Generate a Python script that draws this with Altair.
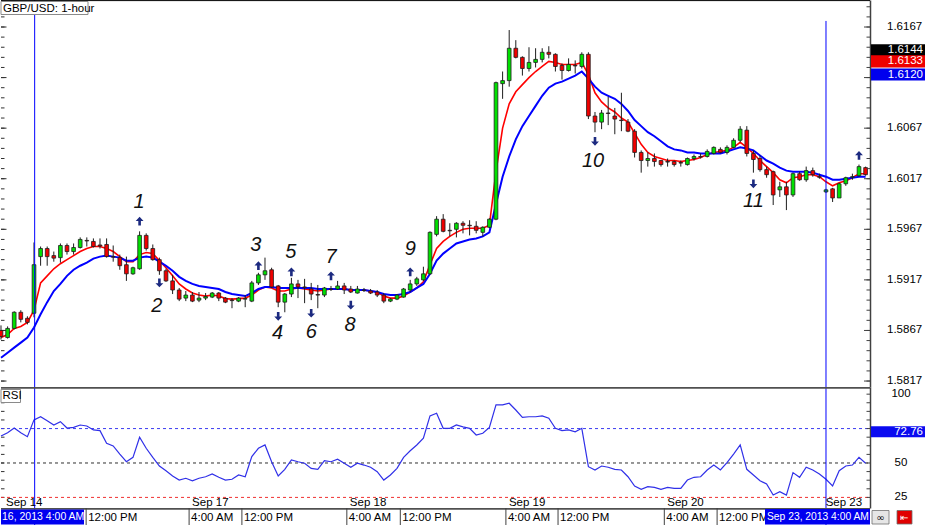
import altair as alt
import pandas as pd

FONT = "Liberation Sans"

# ---------------- data ----------------
open_ = [1.5867, 1.5860, 1.5869, 1.5885, 1.5879, 1.5884, 1.5940, 1.5948, 1.5941, 1.5939,
         1.5951, 1.5945, 1.5949, 1.5956, 1.5955, 1.59515, 1.5952, 1.5940, 1.5939, 1.5932,
         1.5923, 1.5928, 1.5961, 1.5948, 1.5937, 1.5926, 1.5916, 1.5907, 1.5899, 1.5902,
         1.5897, 1.5899, 1.5900, 1.5904, 1.5899, 1.5897, 1.5896, 1.5898, 1.5896, 1.5914,
         1.5922, 1.5927, 1.5911, 1.5895, 1.5903, 1.5913, 1.5910, 1.5908, 1.59025, 1.5902,
         1.5908, 1.5908, 1.5911, 1.5908, 1.5904, 1.5907, 1.5906, 1.5905, 1.5902, 1.5896,
         1.5898, 1.5900, 1.5907, 1.5913, 1.5917, 1.5923, 1.5962, 1.5977, 1.5966, 1.5967,
         1.5973, 1.5971, 1.5970, 1.5964, 1.5969, 1.5977, 1.6111, 1.6114, 1.6146, 1.6137,
         1.6126, 1.6132, 1.6135, 1.6142, 1.6140, 1.6129, 1.6124, 1.6129, 1.6128, 1.6140,
         1.6079, 1.6073, 1.6082, 1.6079, 1.6075, 1.6073, 1.6064, 1.6043, 1.6035, 1.6037,
         1.6035, 1.6034, 1.6034, 1.6033, 1.6031, 1.6037, 1.6039, 1.6039, 1.6042, 1.6046,
         1.6043, 1.6048, 1.6055, 1.6065, 1.6042, 1.6037, 1.6026, 1.6024, 1.6006, 1.6009,
         1.6001, 1.6022, 1.6016, 1.6025, 1.6019, 1.6004, 1.6007, 1.5998, 1.6012, 1.60185,
         1.6020, 1.6028]
high = [1.5872, 1.5871, 1.5886, 1.5887, 1.5881, 1.5954, 1.5950, 1.5950, 1.5945, 1.5953,
        1.5953, 1.5953, 1.5959, 1.5959, 1.5958, 1.5958, 1.5958, 1.5951, 1.5942, 1.5940,
        1.5930, 1.5965, 1.5963, 1.5952, 1.5939, 1.5928, 1.5922, 1.5909, 1.5906, 1.5905,
        1.5905, 1.5904, 1.5905, 1.5905, 1.5900, 1.5899, 1.5900, 1.5902, 1.5916, 1.5924,
        1.5939, 1.5929, 1.5912, 1.5904, 1.5919, 1.5917, 1.5918, 1.5914, 1.5912, 1.5910,
        1.5911, 1.5916, 1.5914, 1.5911, 1.5911, 1.5909, 1.5908, 1.5907, 1.5904, 1.5899,
        1.5903, 1.5909, 1.5917, 1.5920, 1.5930, 1.5965, 1.5980, 1.5982, 1.5973, 1.5974,
        1.5975, 1.5976, 1.5975, 1.5970, 1.5978, 1.6113, 1.6123, 1.6164, 1.6154, 1.6138,
        1.6147, 1.6146, 1.6146, 1.6148, 1.6141, 1.6131, 1.6136, 1.6134, 1.6142, 1.6142,
        1.6083, 1.6085, 1.6098, 1.6087, 1.6102, 1.6076, 1.6066, 1.6045, 1.6043, 1.6042,
        1.6035, 1.6037, 1.6035, 1.6035, 1.6038, 1.6041, 1.6042, 1.6046, 1.6049, 1.6048,
        1.6050, 1.6057, 1.6069, 1.6069, 1.6045, 1.6040, 1.6029, 1.6025, 1.6014, 1.6014,
        1.6023, 1.6024, 1.6029, 1.6028, 1.6022, 1.6007, 1.6008, 1.6013, 1.6019, 1.6022,
        1.6031, 1.6029]
low = [1.5858, 1.5859, 1.5868, 1.5875, 1.5873, 1.5880, 1.5931, 1.5931, 1.5935, 1.5934,
       1.5942, 1.5942, 1.5948, 1.5950, 1.5949, 1.5948, 1.5939, 1.5935, 1.5927, 1.5916,
       1.5922, 1.5927, 1.5946, 1.5936, 1.5922, 1.5915, 1.5903, 1.5896, 1.5896, 1.5895,
       1.5895, 1.5897, 1.5899, 1.5896, 1.5894, 1.5889, 1.5895, 1.5890, 1.5895, 1.5912,
       1.5917, 1.5909, 1.5890, 1.5885, 1.5900, 1.5899, 1.5894, 1.5897, 1.5889, 1.5900,
       1.5906, 1.5907, 1.5903, 1.5904, 1.59035, 1.5905, 1.5903, 1.5900, 1.5894, 1.5895,
       1.5897, 1.58995, 1.5905, 1.5911, 1.5916, 1.5922, 1.5960, 1.5964, 1.5960, 1.5959,
       1.5963, 1.5961, 1.5963, 1.5960, 1.5968, 1.5976, 1.6096, 1.6108, 1.6136, 1.6119,
       1.6123, 1.6127, 1.6132, 1.6136, 1.6123, 1.6115, 1.6123, 1.6121, 1.6126, 1.6076,
       1.6063, 1.6066, 1.6070, 1.6061, 1.6064, 1.6063, 1.6038, 1.6023, 1.6029, 1.6029,
       1.6029, 1.6029, 1.6029, 1.6029, 1.6030, 1.6035, 1.6037, 1.6038, 1.6041, 1.6042,
       1.6041, 1.6047, 1.6053, 1.6039, 1.6023, 1.6024, 1.6018, 1.5991, 1.5999, 1.5986,
       1.5999, 1.6015, 1.6014, 1.6019, 1.6017, 1.6003, 1.5994, 1.5998, 1.6010, 1.6016,
       1.6019, 1.6020]
close = [1.5861, 1.5869, 1.5885, 1.5878, 1.5875, 1.5932, 1.5948, 1.5940, 1.59385, 1.5951,
         1.5945, 1.5949, 1.5957, 1.59555, 1.5950, 1.59505, 1.5940, 1.59395, 1.5931, 1.5923,
         1.5929, 1.5961, 1.5948, 1.5937, 1.5926, 1.5916, 1.5907, 1.5898, 1.5902, 1.5896,
         1.5899, 1.59005, 1.5904, 1.5899, 1.5895, 1.58965, 1.5899, 1.58985, 1.5914, 1.5922,
         1.5926, 1.5910, 1.5895, 1.5903, 1.5913, 1.5910, 1.59095, 1.5903, 1.5902, 1.5909,
         1.59075, 1.5911, 1.5907, 1.5905, 1.5908, 1.59065, 1.5904, 1.5902, 1.5896, 1.5898,
         1.5902, 1.5908, 1.5913, 1.5918, 1.5923, 1.5964, 1.5977, 1.5965, 1.59655, 1.5973,
         1.5971, 1.59705, 1.5966, 1.5969, 1.5977, 1.6112, 1.6114, 1.6146, 1.6137, 1.6126,
         1.6132, 1.6135, 1.6142, 1.6140, 1.6128, 1.6124, 1.6130, 1.61285, 1.6140, 1.6079,
         1.6073, 1.6082, 1.60815, 1.6076, 1.60745, 1.6064, 1.6043, 1.6035, 1.6037, 1.6034,
         1.6031, 1.60335, 1.6031, 1.60325, 1.6037, 1.6039, 1.60385, 1.6044, 1.6048, 1.6043,
         1.6048, 1.6055, 1.6066, 1.6042, 1.6036, 1.6026, 1.6021, 1.6001, 1.6009, 1.6001,
         1.6022, 1.6016, 1.6025, 1.6021, 1.60185, 1.6006, 1.5998, 1.6012, 1.6018, 1.6019,
         1.6029, 1.6021]
ema_fast = [1.5860, 1.5863, 1.5869, 1.5871, 1.5875, 1.5887, 1.5914, 1.5921, 1.5928, 1.5933,
            1.5937, 1.5941, 1.5945, 1.5948, 1.5950, 1.5950, 1.5948, 1.5945, 1.5940, 1.5935,
            1.5935, 1.5942, 1.5944, 1.5943, 1.5936, 1.5929, 1.5921, 1.5913, 1.5908, 1.5904,
            1.5902, 1.5901, 1.5902, 1.5901, 1.58985, 1.5898, 1.58985, 1.5899, 1.5902, 1.5907,
            1.5910, 1.5909, 1.5906, 1.5906, 1.5908, 1.5909, 1.5908, 1.5907, 1.5906, 1.5907,
            1.5908, 1.5908, 1.5908, 1.5907, 1.5907, 1.5907, 1.5906, 1.5905, 1.5901, 1.5899,
            1.5899, 1.5901, 1.5905, 1.5909, 1.5915, 1.5932, 1.5948, 1.5955, 1.5960, 1.5964,
            1.5967, 1.5968, 1.5968, 1.5968, 1.5971, 1.6024, 1.6067, 1.6091, 1.6103, 1.6110,
            1.6117, 1.6123, 1.6128, 1.6133, 1.6132, 1.6130, 1.6130, 1.6130, 1.6132, 1.6120,
            1.6102, 1.6093, 1.6087, 1.6083, 1.6077, 1.6073, 1.6062, 1.6051, 1.6043, 1.6039,
            1.6037, 1.6035, 1.6035, 1.6034, 1.6035, 1.6036, 1.6038, 1.6041, 1.6043, 1.6044,
            1.6045, 1.6048, 1.6053, 1.6048, 1.6042, 1.6035, 1.6029, 1.6023, 1.6016, 1.6013,
            1.6018, 1.6019, 1.6021, 1.6021, 1.6019, 1.6014, 1.6010, 1.6013, 1.6015, 1.6018,
            1.6022, 1.6022]
ema_slow = [1.5840, 1.5845, 1.5850, 1.5855, 1.5860, 1.5870, 1.5883, 1.5895, 1.5906, 1.5913,
            1.5921, 1.5927, 1.5931, 1.5934, 1.5938, 1.5940, 1.5941, 1.5940, 1.5939, 1.5936,
            1.5936, 1.5939, 1.5940, 1.5939, 1.5935, 1.5931, 1.5926, 1.5920, 1.5916, 1.5913,
            1.5911, 1.5910, 1.5909, 1.5908, 1.5905, 1.5903, 1.5902, 1.5901, 1.5904, 1.5908,
            1.5910, 1.5910, 1.5909, 1.5909, 1.5909, 1.5909, 1.5909, 1.5909, 1.5908, 1.5908,
            1.5908, 1.5908, 1.5908, 1.5907, 1.5907, 1.5907, 1.5906, 1.5905, 1.5903, 1.5902,
            1.5902, 1.5903, 1.5905, 1.5909, 1.5913, 1.5923, 1.5936, 1.5943, 1.5948, 1.5953,
            1.5955, 1.5957, 1.5958, 1.5960, 1.5964, 1.5992, 1.6019, 1.6039, 1.6056, 1.6069,
            1.6079, 1.6089, 1.6099, 1.6107, 1.6111, 1.6113, 1.6116, 1.6119, 1.6123, 1.6116,
            1.6108, 1.6102, 1.6099, 1.6096, 1.6091, 1.6084, 1.6075, 1.6069, 1.6063, 1.6059,
            1.6054, 1.6049, 1.6046, 1.6045, 1.6043, 1.6043, 1.6042, 1.6042, 1.6042, 1.6042,
            1.6044, 1.6046, 1.6048, 1.6047, 1.6045, 1.6040, 1.6035, 1.6032, 1.6028, 1.6025,
            1.6024, 1.6024, 1.6024, 1.6023, 1.6021, 1.6019, 1.6016, 1.6016, 1.6017, 1.6018,
            1.6019, 1.6019]
rsi = [69.6, 72.0, 75.4, 72.0, 69.1, 81.3, 83.6, 80.7, 77.6, 80.0,
       75.4, 75.9, 77.6, 76.9, 74.0, 73.5, 64.3, 62.4, 56.5, 50.9,
       54.1, 68.7, 60.7, 54.1, 47.8, 44.4, 40.6, 37.6, 38.9, 37.1,
       38.9, 40.0, 42.0, 39.6, 37.6, 38.2, 41.3, 40.0, 54.6, 60.7,
       63.1, 50.9, 40.6, 45.4, 52.2, 50.9, 49.8, 46.1, 45.4, 51.7,
       50.9, 52.7, 49.8, 46.9, 49.8, 48.5, 46.9, 43.7, 37.6, 41.3,
       46.1, 54.1, 58.9, 63.1, 68.0, 84.2, 86.1, 75.2, 75.2, 77.6,
       76.2, 75.2, 70.3, 71.6, 75.9, 92.2, 92.2, 93.4, 88.5, 83.2,
       83.6, 83.6, 84.2, 82.5, 75.2, 73.5, 74.0, 72.7, 75.2, 47.3,
       44.9, 47.8, 46.9, 45.4, 44.9, 40.0, 33.3, 30.9, 32.8, 32.3,
       30.9, 32.3, 31.6, 31.6, 37.6, 39.6, 40.0, 44.9, 48.5, 44.9,
       50.2, 56.5, 63.1, 45.4, 41.3, 37.1, 34.7, 26.7, 29.1, 26.7,
       43.0, 39.6, 46.9, 44.9, 42.0, 38.2, 33.3, 44.4, 47.8, 48.5,
       54.1, 49.8]

# axis ticks and their labels (1.6117 and 75 are hidden behind the quote boxes)
price_ticks_major = [1.5817, 1.5867, 1.5917, 1.5967, 1.6017, 1.6067, 1.6117, 1.6167]
price_tick_labels = [1.5817, 1.5867, 1.5917, 1.5967, 1.6017, 1.6067, 1.6167]
price_ticks_minor = [round(1.5817 + 0.001 * k, 4) for k in range(38)]
rsi_tick_labels = [25, 50, 100]
rsi_ticks = [25 + 6.25 * k for k in range(13)]
rsi_levels = [75, 50, 25]
rsi_level_colors = ["#3c3cf0", "#303030", "#f03030"]

date_labels = ["Sep 14", "Sep 17", "Sep 18", "Sep 19", "Sep 20", "Sep 23"]
date_pos = [0.3, 28.5, 52.4, 76.5, 100.5, 124.5]
time_labels = ["12:00 PM", "4:00 AM", "12:00 PM", "4:00 AM", "12:00 PM",
               "4:00 AM", "12:00 PM", "4:00 AM", "12:00 PM"]
time_pos = [12.9, 28.5, 36.5, 52.4, 60.5, 76.5, 84.4, 100.5, 108.5]

marker_t = [5.1, 125]
marker_top = [1.61937, 1.6173]
marker_bottom = [1.58111, 1.58111]

arrow_t = [21, 24, 39, 42, 44, 47, 50, 53, 62, 90, 114, 130]
arrow_p = [1.5975, 1.5914, 1.5931, 1.5881, 1.5925, 1.5884, 1.5921, 1.5892, 1.5925, 1.6054, 1.6012, 1.6040]
arrow_dir = ["up", "down", "up", "down", "up", "down", "up", "down", "up", "down", "down", "up"]

note_text = ["1", "2", "3", "4", "5", "6", "7", "8", "9", "10", "11"]
note_t = [20.9, 23.6, 38.6, 41.9, 43.9, 47.0, 50.0, 52.9, 62.0, 89.7, 114.0]
note_p = [1.5994, 1.5891, 1.5951, 1.5864, 1.5945, 1.5865, 1.5940, 1.5872, 1.5948, 1.6035, 1.5995]

quote_values = [1.6144, 1.6133, 1.6120]
quote_colors = ["#000000", "#ee0000", "#0000ee"]
rsi_quote = [72.76]

title_text = ["GBP/USD: 1-hour"]
rsi_title = ["RSI"]
left_stamp = ["16, 2013 4:00 AM"]
right_stamp = ["Sep 23, 2013 4:00 AM"]

# ---------------- frames ----------------
W, H1, H2 = 870, 387, 121
N = len(open_)
candles = pd.DataFrame({"t": list(range(N)), "open": open_, "high": high, "low": low,
                        "close": close, "ema_fast": ema_fast, "ema_slow": ema_slow, "rsi": rsi})

xs = alt.Scale(domain=[-0.1515, 131.667], nice=False, zero=False)
ps = alt.Scale(domain=[1.58111, 1.61937], nice=False, zero=False)
rs = alt.Scale(domain=[17.3, 105.2], nice=False, zero=False)

p_axis = alt.Axis(orient="right", values=price_ticks_major, ticks=False, tickSize=0, labels=False,
                  domain=True, domainColor="#404040", domainWidth=1.5, grid=False, title=None)
r_axis = alt.Axis(orient="right", values=rsi_tick_labels, ticks=False, tickSize=0, labels=False,
                  domain=True, domainColor="#404040", domainWidth=1.5, grid=False, title=None)


def PY(f):
    return alt.Y(f, type="quantitative", scale=ps, axis=p_axis)


def RY(f):
    return alt.Y(f, type="quantitative", scale=rs, axis=r_axis)


def TX(f):
    return alt.X(f, type="quantitative", scale=xs, axis=None)


one = pd.DataFrame({"k": [0]})
cbase = alt.Chart(candles)

# ---------------- price panel ----------------
ema_f = cbase.mark_line(color="#ff0000", strokeWidth=1.6, clip=True).encode(x=TX("t"), y=PY("ema_fast"))
ema_s = cbase.mark_line(color="#0000ff", strokeWidth=2, clip=True).encode(x=TX("t"), y=PY("ema_slow"))
wicks = cbase.mark_rule(color="#1e1e1e", strokeWidth=1, clip=True).encode(
    x=TX("t"), y=PY("low"), y2="high:Q")
bodies = cbase.transform_calculate(t0="datum.t - 0.28", t1="datum.t + 0.28").mark_rect(
    stroke="#1e1e1e", strokeWidth=0.8, clip=True).encode(
    x=TX("t0"), x2="t1:Q", y=PY("open"), y2="close:Q",
    fill=alt.condition("datum.close >= datum.open", alt.value("#00e000"), alt.value("#f00000")))

markers = pd.DataFrame({"t": marker_t, "top": marker_top, "bot": marker_bottom})
vlines_p = alt.Chart(markers).mark_rule(color="#0000ff", strokeWidth=1, clip=True).encode(
    x=TX("t"), y=PY("top"), y2="bot:Q")

ticks_major = pd.DataFrame({"v": price_ticks_major})
ticks_minor = pd.DataFrame({"v": price_ticks_minor})
rt_major = alt.Chart(ticks_major).mark_rule(color="#404040").encode(
    x=alt.value(864), x2=alt.value(870), y=PY("v"))
rt_minor = alt.Chart(ticks_minor).mark_rule(color="#404040").encode(
    x=alt.value(866.5), x2=alt.value(870), y=PY("v"))
lt_major = alt.Chart(ticks_major).mark_rule(color="#303030").encode(
    x=alt.value(1), x2=alt.value(6.5), y=PY("v"))
lt_minor = alt.Chart(ticks_minor).mark_rule(color="#303030").encode(
    x=alt.value(1), x2=alt.value(4.5), y=PY("v"))
plabels = pd.DataFrame({"v": price_tick_labels})
plabel_txt = alt.Chart(plabels).mark_text(font=FONT, fontSize=11.5, color="#000000", align="left",
                                          baseline="middle").encode(
    x=alt.value(887), y=PY("v"), text=alt.Text("v:Q", format=".4f"))

top_border = alt.Chart(one).mark_rule(color="#000000", strokeWidth=1).encode(
    x=alt.value(1), x2=alt.value(870), y=alt.value(0.6))

arrows = pd.DataFrame({"t": arrow_t, "p": arrow_p, "dir": arrow_dir})
up_path = "M0,-1L0.9,-0.05L0.3,-0.05L0.3,1L-0.3,1L-0.3,-0.05L-0.9,-0.05Z"
down_path = "M0,1L0.9,0.05L0.3,0.05L0.3,-1L-0.3,-1L-0.3,0.05L-0.9,0.05Z"
arrow_layer = alt.Chart(arrows).mark_point(filled=True, color="#1c2a80", opacity=1, size=76).encode(
    x=TX("t"), y=PY("p"),
    shape=alt.Shape("dir:N", scale=alt.Scale(domain=["up", "down"], range=[up_path, down_path]), legend=None))

notes = pd.DataFrame({"t": note_t, "p": note_p, "label": note_text})
note_layer = alt.Chart(notes).mark_text(font=FONT, fontSize=20, fontStyle="italic", color="#111111",
                                        align="center", baseline="middle").encode(
    x=TX("t"), y=PY("p"), text="label:N")

quotes = pd.DataFrame({"v": quote_values, "c": quote_colors})
quote_box = alt.Chart(quotes).transform_calculate(lo="datum.v - 0.0006", hi="datum.v + 0.0006").mark_rect().encode(
    x=alt.value(871), x2=alt.value(925), y=PY("lo"), y2="hi:Q", fill=alt.Fill("c:N", scale=None))
quote_txt = alt.Chart(quotes).mark_text(font=FONT, fontSize=11.5, color="#ffffff", align="right",
                                        baseline="middle").encode(
    x=alt.value(923), y=PY("v"), text=alt.Text("v:Q", format=".4f"))

title_df = pd.DataFrame({"label": title_text})
title_box = alt.Chart(title_df).mark_rect(fill="#ffffff", stroke="#8a8a8a", strokeWidth=1).encode(
    x=alt.value(1), x2=alt.value(88), y=alt.value(1.5), y2=alt.value(14.5))
title_txt = alt.Chart(title_df).mark_text(font=FONT, fontSize=11.5, color="#000000", align="left",
                                          baseline="middle").encode(
    x=alt.value(3), y=alt.value(8.5), text="label:N")

price_panel = alt.layer(
    lt_minor, lt_major, ema_f, ema_s, wicks, bodies, vlines_p, arrow_layer, note_layer,
    rt_minor, rt_major, plabel_txt, top_border, title_box, title_txt, quote_box, quote_txt
).properties(width=W, height=H1)

# ---------------- RSI panel ----------------
levels = pd.DataFrame({"lvl": rsi_levels, "c": rsi_level_colors})
level_layer = alt.Chart(levels).mark_rule(strokeDash=[3, 3], strokeWidth=1).encode(
    x=alt.value(1), x2=alt.value(870), y=RY("lvl"), color=alt.Color("c:N", scale=None))
rsi_line = cbase.mark_line(color="#3030e8", strokeWidth=1.2, clip=True).encode(x=TX("t"), y=RY("rsi"))

rticks = pd.DataFrame({"v": rsi_ticks})
rsi_rt = alt.Chart(rticks).mark_rule(color="#404040").encode(
    x=alt.value(866.5), x2=alt.value(870), y=RY("v"))
rsi_lt = alt.Chart(rticks).mark_rule(color="#303030").encode(
    x=alt.value(1), x2=alt.value(4.5), y=RY("v"))
rlabels = pd.DataFrame({"v": rsi_tick_labels})
rlabel_txt = alt.Chart(rlabels).mark_text(font=FONT, fontSize=11.5, color="#000000", align="center",
                                          baseline="middle").encode(
    x=alt.value(901), y=RY("v"), text=alt.Text("v:Q", format="d"))

vlines_r = alt.Chart(markers).mark_rule(color="#0000ff", strokeWidth=1).encode(
    x=TX("t"), y=alt.value(0), y2=alt.value(138))

sep_line = alt.Chart(one).mark_rule(color="#505050", strokeWidth=1.8).encode(
    x=alt.value(1), x2=alt.value(870), y=alt.value(0.8))
bottom_line = alt.Chart(one).mark_rule(color="#505050", strokeWidth=1.8).encode(
    x=alt.value(1), x2=alt.value(870), y=alt.value(121.8))

rq = pd.DataFrame({"v": rsi_quote})
rq_box = alt.Chart(rq).transform_calculate(lo="datum.v - 4", hi="datum.v + 4").mark_rect(fill="#0a0af0").encode(
    x=alt.value(871), x2=alt.value(925), y=RY("lo"), y2="hi:Q")
rq_txt = alt.Chart(rq).mark_text(font=FONT, fontSize=11.5, color="#ffffff", align="right",
                                 baseline="middle").encode(
    x=alt.value(923), y=RY("v"), text=alt.Text("v:Q", format=".2f"))

rsi_df = pd.DataFrame({"label": rsi_title})
rsi_box = alt.Chart(rsi_df).mark_rect(fill="#ffffff", stroke="#8a8a8a", strokeWidth=1).encode(
    x=alt.value(1), x2=alt.value(20.5), y=alt.value(2.5), y2=alt.value(15.5))
rsi_txt = alt.Chart(rsi_df).mark_text(font=FONT, fontSize=11.5, color="#000000", align="left",
                                      baseline="middle").encode(
    x=alt.value(2.5), y=alt.value(9), text="label:N")

dates = pd.DataFrame({"pos": date_pos, "label": date_labels})
date_txt = alt.Chart(dates).mark_text(font=FONT, fontSize=11.5, color="#000000", align="left",
                                      baseline="middle", dx=3).encode(
    x=TX("pos"), y=alt.value(115.5), text="label:N")

times = pd.DataFrame({"pos": time_pos, "label": time_labels})
time_sep = alt.Chart(times).mark_rule(color="#404040", strokeWidth=1).encode(
    x=TX("pos"), y=alt.value(121), y2=alt.value(138))
time_txt = alt.Chart(times).mark_text(font=FONT, fontSize=11.5, color="#000000", align="left",
                                      baseline="middle", dx=2).encode(
    x=TX("pos"), y=alt.value(130.5), text="label:N")

ls_df = pd.DataFrame({"label": left_stamp})
ls_box = alt.Chart(ls_df).mark_rect(fill="#0000f0").encode(
    x=alt.value(1), x2=alt.value(84), y=alt.value(122.5), y2=alt.value(137.5))
ls_txt = alt.Chart(ls_df).mark_text(font=FONT, fontSize=10.5, color="#ffffff", align="left",
                                    baseline="middle").encode(
    x=alt.value(2), y=alt.value(130), text="label:N")

rs_df = pd.DataFrame({"label": right_stamp})
rs_box = alt.Chart(rs_df).mark_rect(fill="#0000f0").encode(
    x=alt.value(765), x2=alt.value(870), y=alt.value(122), y2=alt.value(137.5))
rs_txt = alt.Chart(rs_df).mark_text(font=FONT, fontSize=10.3, color="#ffffff", align="left",
                                    baseline="middle").encode(
    x=alt.value(767), y=alt.value(130), text="label:N")

icons = pd.DataFrame({"g": ["\u221e", "\u21e4"], "x0": [872, 897], "x1": [889, 912],
                      "bg": ["#e6e6e6", "#e00000"], "fg": ["#000000", "#ffffff"], "cx": [880.5, 904.5]})
icon_box = alt.Chart(icons).mark_rect(stroke="#707070", strokeWidth=0.8).encode(
    x=alt.X("x0:Q", scale=None), x2="x1:Q", y=alt.value(123.5), y2=alt.value(137),
    fill=alt.Fill("bg:N", scale=None))
icon_txt = alt.Chart(icons).mark_text(font="DejaVu Sans", fontSize=10, align="center",
                                      baseline="middle").encode(
    x=alt.X("cx:Q", scale=None), y=alt.value(130.5), text="g:N", color=alt.Color("fg:N", scale=None))

rsi_panel = alt.layer(
    rsi_lt, level_layer, rsi_line, vlines_r, rsi_rt, rlabel_txt, sep_line, bottom_line, rq_box, rq_txt,
    rsi_box, rsi_txt, date_txt, time_sep, time_txt, ls_box, ls_txt, rs_box, rs_txt,
    icon_box, icon_txt
).properties(width=W, height=H2)

chart = alt.vconcat(price_panel, rsi_panel, spacing=0, bounds="flush").properties(
    padding=0, background="#ffffff"
).configure_view(stroke=None)

chart.save("out.html", embed_options={"renderer": "svg", "actions": False})
